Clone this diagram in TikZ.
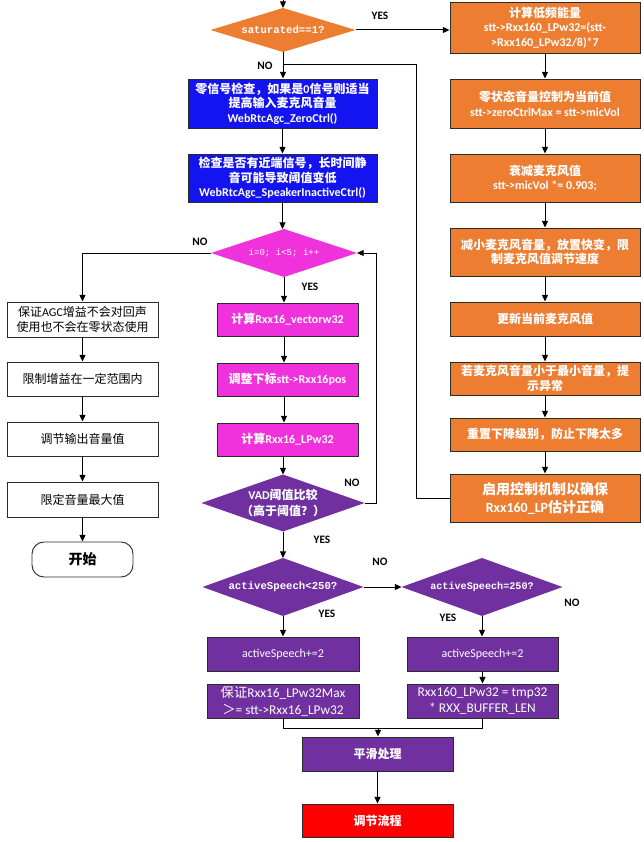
\documentclass[tikz,border=0pt]{standalone}
\usepackage{fontspec}
\setmainfont{Carlito}
\newfontfamily\cjk{Noto Sans CJK SC}
\newfontfamily\monof{Liberation Mono}
\usetikzlibrary{shapes.geometric,arrows.meta}
\definecolor{orng}{HTML}{ED7D31}
\definecolor{blu}{RGB}{20,20,240}
\definecolor{pnk}{RGB}{240,50,220}
\definecolor{purp}{HTML}{7030A0}
\definecolor{redd}{HTML}{FF0000}
\definecolor{bord}{HTML}{2B2B2B}
\newcommand\zh[1]{{\cjk #1}}
\begin{document}
\begin{tikzpicture}[x=0.75pt,y=-0.75pt,
  sz/.style 2 args={minimum width=#1*0.75pt, minimum height=#2*0.75pt},
  bx/.style={draw=bord, line width=0.7pt, rectangle, inner sep=0pt, align=center, text=white, font=\bfseries\fontsize{9}{11}\selectfont},
  ob/.style={bx, fill=orng},
  bb/.style={bx, fill=blu},
  pb/.style={bx, fill=pnk},
  vb/.style={bx, fill=purp},
  rb/.style={bx, fill=redd},
  wb/.style={bx, fill=white, text=black, font=\fontsize{9}{11}\selectfont},
  dia/.style={diamond, inner sep=0pt, outer sep=0pt, draw=none},
  dtxt/.style={text=white, align=center, inner sep=0pt},
  lab/.style={font=\bfseries\fontsize{8.5}{10}\selectfont, text=black, inner sep=0pt},
  arr/.style={-{Triangle[length=5pt,width=4.5pt]}, line width=0.75pt, draw=black},
  ln/.style={line width=0.75pt, draw=black}]
\useasboundingbox (0,0) rectangle (643,842);

% ---- top decision
\coordinate (top) at (283,0);
\node[dia, fill=orng, sz={145}{44}, label={[dtxt,font=\monof\bfseries\fontsize{8}{10}\selectfont]center:saturated==1?}] (sat) at (283,30) {};

% ---- right orange column
\node[ob, sz={190}{51}] (o1) at (545,27.5) {\zh{计算低频能量}\\stt->Rxx160\_LPw32=(stt-\\>Rxx160\_LPw32/8)*7};
\node[ob, sz={190}{49}] (o2) at (545,103.5) {\zh{零状态音量控制为当前值}\\stt->zeroCtrlMax = stt->micVol};
\node[ob, sz={190}{48}] (o3) at (545,178) {\zh{衰减麦克风值}\\stt->micVol *= 0.903;};
\node[ob, sz={190}{48}] (o4) at (545,252) {\zh{减小麦克风音量，放置快变，限}\\\zh{制麦克风值调节速度}};
\node[ob, sz={190}{34}] (o5) at (545,319) {\zh{更新当前麦克风值}};
\node[ob, sz={190}{33}] (o6) at (545,378.5) {\zh{若麦克风音量小于最小音量，提}\\\zh{示异常}};
\node[ob, sz={190}{33}] (o7) at (545,434.5) {\zh{重置下降级别，防止下降太多}};
\node[ob, sz={190}{48}, font=\bfseries\fontsize{10.5}{13.5}\selectfont] (o8) at (545,498) {\zh{启用控制机制以确保}\\Rxx160\_LP\zh{估计正确}};

% ---- blue boxes
\node[bb, sz={189}{49}] (b1) at (282.5,103.5) {\zh{零信号检查，如果是}0\zh{信号则适当}\\\zh{提高输入麦克风音量}\\WebRtcAgc\_ZeroCtrl()};
\node[bb, sz={189}{48}] (b2) at (282.5,178) {\zh{检查是否有近端信号，长时间静}\\\zh{音可能导致阈值变低}\\WebRtcAgc\_SpeakerInactiveCtrl()};

% ---- loop
\node[dia, fill=pnk, sz={146}{48}, label={[dtxt,font=\monof\fontsize{6.8}{8}\selectfont]center:i=0; i<5; i++}] (loop) at (284,253) {};
\node[pb, sz={141}{33}] (p1) at (287.5,319.5) {\zh{计算}Rxx16\_vectorw32};
\node[pb, sz={141}{33}] (p2) at (287.5,379.5) {\zh{调整下标}stt->Rxx16pos};
\node[pb, sz={141}{33}] (p3) at (287.5,439.5) {\zh{计算}Rxx16\_LPw32};
\node[dia, fill=purp, sz={163}{57}, label={[dtxt,font=\bfseries\fontsize{9}{12}\selectfont]center:VAD\zh{阈值比较}\\\zh{（高于阈值？）}}] (vad) at (283,503) {};

% ---- left white column
\node[wb, sz={151}{35}] (wa) at (82.5,319.5) {\zh{保证}AGC\zh{增益不会对回声}\\\zh{使用也不会在零状态使用}};
\node[wb, sz={151}{34}] (wbb) at (82.5,379) {\zh{限制增益在一定范围内}};
\node[wb, sz={151}{34}] (wc) at (82.5,439) {\zh{调节输出音量值}};
\node[wb, sz={151}{35}] (wd) at (82.5,499.5) {\zh{限定音量最大值}};
\node[wb, sz={101}{35}, rounded corners=9pt, font=\bfseries\fontsize{10.5}{12}\selectfont] (st) at (82.5,559.5) {\zh{开始}};

% ---- activeSpeech part
\node[dia, fill=purp, sz={161}{58}, label={[dtxt,font=\monof\bfseries\fontsize{8}{10}\selectfont]center:activeSpeech<250?}] (asp1) at (283,587) {};
\node[dia, fill=purp, sz={161}{58}, label={[dtxt,font=\monof\bfseries\fontsize{7.6}{10}\selectfont]center:activeSpeech=250?}] (asp2) at (482,587) {};
\node[vb, sz={152}{34}, font=\fontsize{9}{11}\selectfont] (as1) at (283,654) {activeSpeech+=2};
\node[vb, sz={151}{34}, font=\fontsize{9}{11}\selectfont] (as2) at (482.5,654) {activeSpeech+=2};
\node[vb, sz={152}{34}, font=\fontsize{10}{12.5}\selectfont] (l1) at (283,701) {\zh{保证}Rxx16\_LPw32Max\\\zh{＞}= stt->Rxx16\_LPw32};
\node[vb, sz={151}{34}, font=\fontsize{10}{12.5}\selectfont] (l2) at (482.5,701) {Rxx160\_LPw32 = tmp32\\* RXX\_BUFFER\_LEN};
\node[vb, sz={151}{34}] (sm) at (377.5,754) {\zh{平滑处理}};
\node[rb, sz={151}{33}] (rd) at (377.5,820.5) {\zh{调节流程}};

% ---- labels
\node[lab] (y1) at (380,16) {YES};
\node[lab] (n1) at (265,66) {NO};
\node[lab] (n2) at (200,242) {NO};
\node[lab] (y2) at (310,287) {YES};
\node[lab] (n3) at (352,483) {NO};
\node[lab] (y3) at (322,540) {YES};
\node[lab] (n4) at (380,562) {NO};
\node[lab] (y4) at (327,614) {YES};
\node[lab] (y5) at (448,618) {YES};
\node[lab] (n5) at (572,603) {NO};

% ---- connectors
\draw[arr] (top) -- (sat.north);
\draw[arr] (sat.east) -- (sat.east -| o1.west);
\draw[arr] (o1.south) -- (o2.north);
\draw[arr] (o2.south) -- (o3.north);
\draw[arr] (o3.south) -- (o4.north);
\draw[arr] (o4.south) -- (o5.north);
\draw[arr] (o5.south) -- (o6.north);
\draw[arr] (o6.south) -- (o7.north);
\draw[arr] (o7.south) -- (o8.north);
\coordinate (rx) at (416,65);
\draw[ln] (o8.west) -| (rx) -- (rx -| sat.south);
\draw[arr] (sat.south) -- (sat.south |- b1.north);
\draw[arr] (b1.south) -- (b2.north);
\draw[arr] (b2.south) -- (b2.south |- loop.north);
\draw[arr] (loop.south) -- (loop.south |- p1.north);
\draw[arr] (loop.south |- p1.south) -- (loop.south |- p2.north);
\draw[arr] (loop.south |- p2.south) -- (loop.south |- p3.north);
\draw[arr] (vad.north |- p3.south) -- (vad.north);
\coordinate (lx) at (376,503);
\draw[arr] (vad.east) -- (lx) -- (lx |- loop.east) -- (loop.east);
\draw[arr] (loop.west) -| (wa.north);
\draw[arr] (wa.south) -- (wbb.north);
\draw[arr] (wbb.south) -- (wc.north);
\draw[arr] (wc.south) -- (wd.north);
\draw[arr] (wd.south) -- (st.north);
\draw[arr] (vad.south) -- (asp1.north);
\draw[arr] (asp1.east) -- (asp2.west);
\draw[arr] (asp1.south) -- (as1.north);
\draw[arr] (asp2.south) -- (asp2.south |- as2.north);
\draw[arr] (as2.south) -- (l2.north);
\coordinate (mg) at (378,728);
\draw[ln] (l1.south) |- (mg);
\draw[ln] (l2.south) |- (mg);
\draw[arr] (mg) -- (mg |- sm.north);
\draw[arr] (sm.south) -- (rd.north);
\end{tikzpicture}
\end{document}
